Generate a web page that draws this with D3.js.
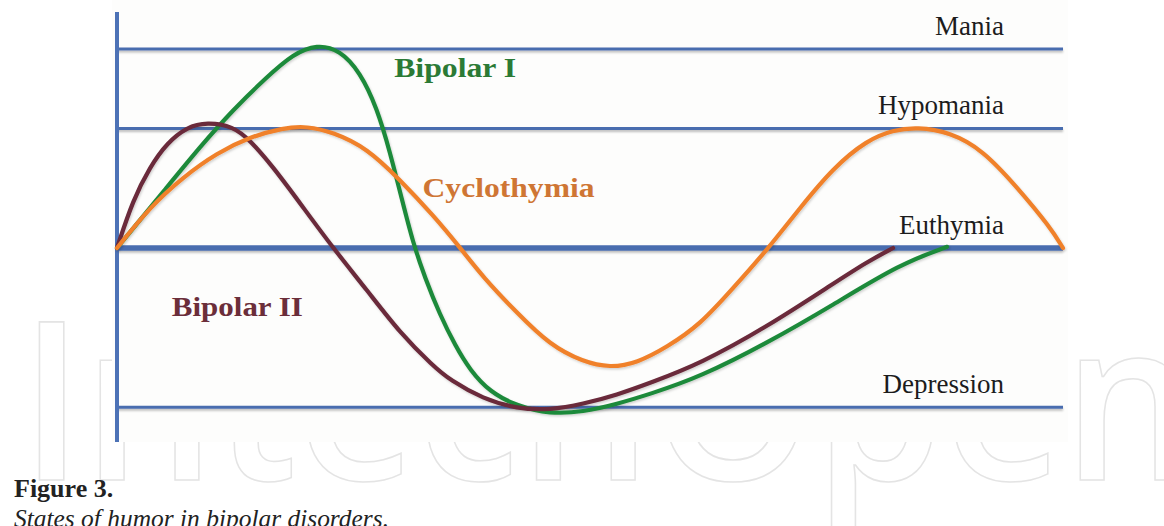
<!DOCTYPE html>
<html><head><meta charset="utf-8">
<script src="https://cdn.jsdelivr.net/npm/d3@7"></script>
<style>html,body{margin:0;padding:0;background:#fff;} svg{display:block}</style>
</head><body><svg id="chart" width="1164" height="526"></svg>
<script>
// ---- data ----
const levelNames = ["Mania", "Hypomania", "Euthymia", "Depression"];
const levelValues = [5, 3, 0, -4];

const seriesNames = ["Bipolar I", "Bipolar II", "Cyclothymia"];

const bipolarI_t = [0, 5.29, 8.77, 12.26, 15.86, 18.60, 21.14, 23.57, 25.69, 27.48, 28.86, 30.13, 31.29, 32.56, 34.14, 35.73, 37.32, 39.43, 42.28, 45.77, 49.26, 52.85, 56.34, 61.63, 68.71, 75.69, 82.77, 87.74];
const bipolarI_mood = [0, 1.53, 2.54, 3.47, 4.30, 4.87, 5.12, 4.97, 4.42, 3.52, 2.41, 1.21, 0.13, -0.75, -1.68, -2.44, -3.07, -3.62, -3.97, -4.17, -4.12, -3.92, -3.67, -3.24, -2.39, -1.43, -0.40, 0.03];

const bipolarII_t = [0, 1.69, 3.49, 5.29, 7.40, 9.51, 12.26, 14.06, 16.49, 19.34, 22.83, 26.43, 29.92, 33.40, 35.20, 38.69, 42.28, 45.77, 49.26, 52.85, 56.34, 61.63, 68.71, 75.69, 79.28, 82.03];
const bipolarII_mood = [0, 1.21, 2.04, 2.64, 3.04, 3.16, 3.06, 2.71, 2.04, 1.13, 0, -1.06, -2.14, -2.96, -3.32, -3.79, -4.04, -4.07, -3.92, -3.69, -3.39, -2.91, -1.98, -0.90, -0.35, 0];

const cyclo_t = [0, 3.49, 6.98, 10.57, 14.06, 17.55, 20.08, 22.83, 26.43, 29.92, 33.40, 36.47, 38.69, 42.28, 45.77, 49.26, 52.11, 54.97, 58.14, 61.63, 65.12, 68.71, 72.20, 75.69, 79.28, 82.03, 84.57, 88.05, 91.54, 95.14, 98.63, 100];
const cyclo_mood = [0, 1.03, 1.78, 2.39, 2.79, 3.02, 3.06, 2.91, 2.51, 1.71, 0.83, -0.05, -0.73, -1.63, -2.44, -2.86, -3.01, -2.89, -2.49, -1.93, -1.01, -0.05, 1.01, 2.01, 2.71, 2.96, 3.04, 2.91, 2.46, 1.53, 0.53, 0];

const captionTitle = "Figure 3.";
const captionText = "States of humor in bipolar disorders.";
const watermarkText = "IntechOpen";

// ---- drawing ----
const svg = d3.select("#chart");
const x = d3.scaleLinear().domain([0, 100]).range([117, 1063]);
const y = d3.scaleLinear().domain([-4, 5]).range([407.2, 49]);

const defs = svg.append("defs");
const sh = defs.append("filter").attr("id", "sh").attr("filterUnits", "userSpaceOnUse")
  .attr("x", 0).attr("y", 0).attr("width", 1164).attr("height", 526);
sh.append("feDropShadow").attr("dx", 0).attr("dy", 2).attr("stdDeviation", 1.3).attr("flood-color", "#000").attr("flood-opacity", 0.25);
const sh2 = defs.append("filter").attr("id", "sh2").attr("filterUnits", "userSpaceOnUse")
  .attr("x", 0).attr("y", 0).attr("width", 1164).attr("height", 526);
sh2.append("feDropShadow").attr("dx", 1).attr("dy", 1.5).attr("stdDeviation", 1.2).attr("flood-color", "#000").attr("flood-opacity", 0.18);

// watermark
svg.append("text")
  .attr("x", 20).attr("y", 480)
  .attr("font-family", "Open Sans").attr("font-weight", 600).attr("font-size", 222)
  .attr("fill", "none").attr("stroke", "#e4e4e4").attr("stroke-width", 1.6)
  .attr("textLength", 1175).attr("lengthAdjust", "spacingAndGlyphs")
  .text(watermarkText);

// chart image background
svg.append("rect").attr("x", 112).attr("y", 0).attr("width", 956).attr("height", 442).attr("fill", "#fdfdfc");

// level lines
const levels = levelNames.map((n, i) => ({name: n, v: levelValues[i]}));
svg.append("g").attr("filter", "url(#sh)").selectAll("line").data(levels).join("line")
  .attr("x1", x(0)).attr("x2", x(100))
  .attr("y1", d => y(d.v)).attr("y2", d => y(d.v))
  .attr("stroke", "#4a6daf")
  .attr("stroke-width", d => d.v === 0 ? 5.5 : 3);

// vertical axis
const axis = d3.axisLeft(y).tickValues([]).tickSizeOuter(0);
const axG = svg.append("g").attr("transform", `translate(${x(0)},0)`).call(axis);
axG.select(".domain").attr("d", `M0,12V442`).attr("stroke", "#4d72b6").attr("stroke-width", 4);

// level labels
svg.append("g").selectAll("text").data(levels).join("text")
  .attr("x", 1004).attr("y", d => y(d.v) - 14.5)
  .attr("text-anchor", "end")
  .attr("font-family", "Liberation Serif").attr("font-size", 27)
  .attr("fill", "#1c1c1c")
  .text(d => d.name);

// curves
const series = [
  {name: seriesNames[0], t: bipolarI_t, m: bipolarI_mood, color: "#1f8a3a"},
  {name: seriesNames[1], t: bipolarII_t, m: bipolarII_mood, color: "#6a2a3a"},
  {name: seriesNames[2], t: cyclo_t, m: cyclo_mood, color: "#f0812c"}
];
const line = d3.line().x(d => x(d[0])).y(d => y(d[1])).curve(d3.curveBasis);
svg.append("g").attr("filter", "url(#sh2)").selectAll("path").data(series).join("path")
  .attr("d", s => line(s.t.map((t, i) => [t, s.m[i]])))
  .attr("fill", "none").attr("stroke", s => s.color)
  .attr("stroke-width", 4.2).attr("stroke-linecap", "round");

// series labels
const seriesLabels = [
  {text: seriesNames[0], t: 29.3, m: 4.3, len: 122, color: "#2b7a35"},
  {text: seriesNames[1], t: 5.8, m: -1.7, len: 131, color: "#6b2e3a"},
  {text: seriesNames[2], t: 32.3, m: 1.27, len: 172, color: "#cf7634"}
];
svg.append("g").selectAll("text").data(seriesLabels).join("text")
  .attr("x", d => x(d.t)).attr("y", d => y(d.m))
  .attr("font-family", "Liberation Serif").attr("font-weight", "bold").attr("font-size", 28)
  .attr("fill", d => d.color)
  .attr("textLength", d => d.len).attr("lengthAdjust", "spacingAndGlyphs")
  .text(d => d.text);

// caption
svg.append("text").attr("x", 14).attr("y", 497)
  .attr("font-family", "Liberation Serif").attr("font-weight", "bold").attr("font-size", 26)
  .attr("fill", "#222").text(captionTitle);
svg.append("text").attr("x", 14).attr("y", 527)
  .attr("font-family", "Liberation Serif").attr("font-style", "italic").attr("font-size", 26)
  .attr("fill", "#222").attr("textLength", 375).attr("lengthAdjust", "spacingAndGlyphs")
  .text(captionText);
</script>
</body></html>
